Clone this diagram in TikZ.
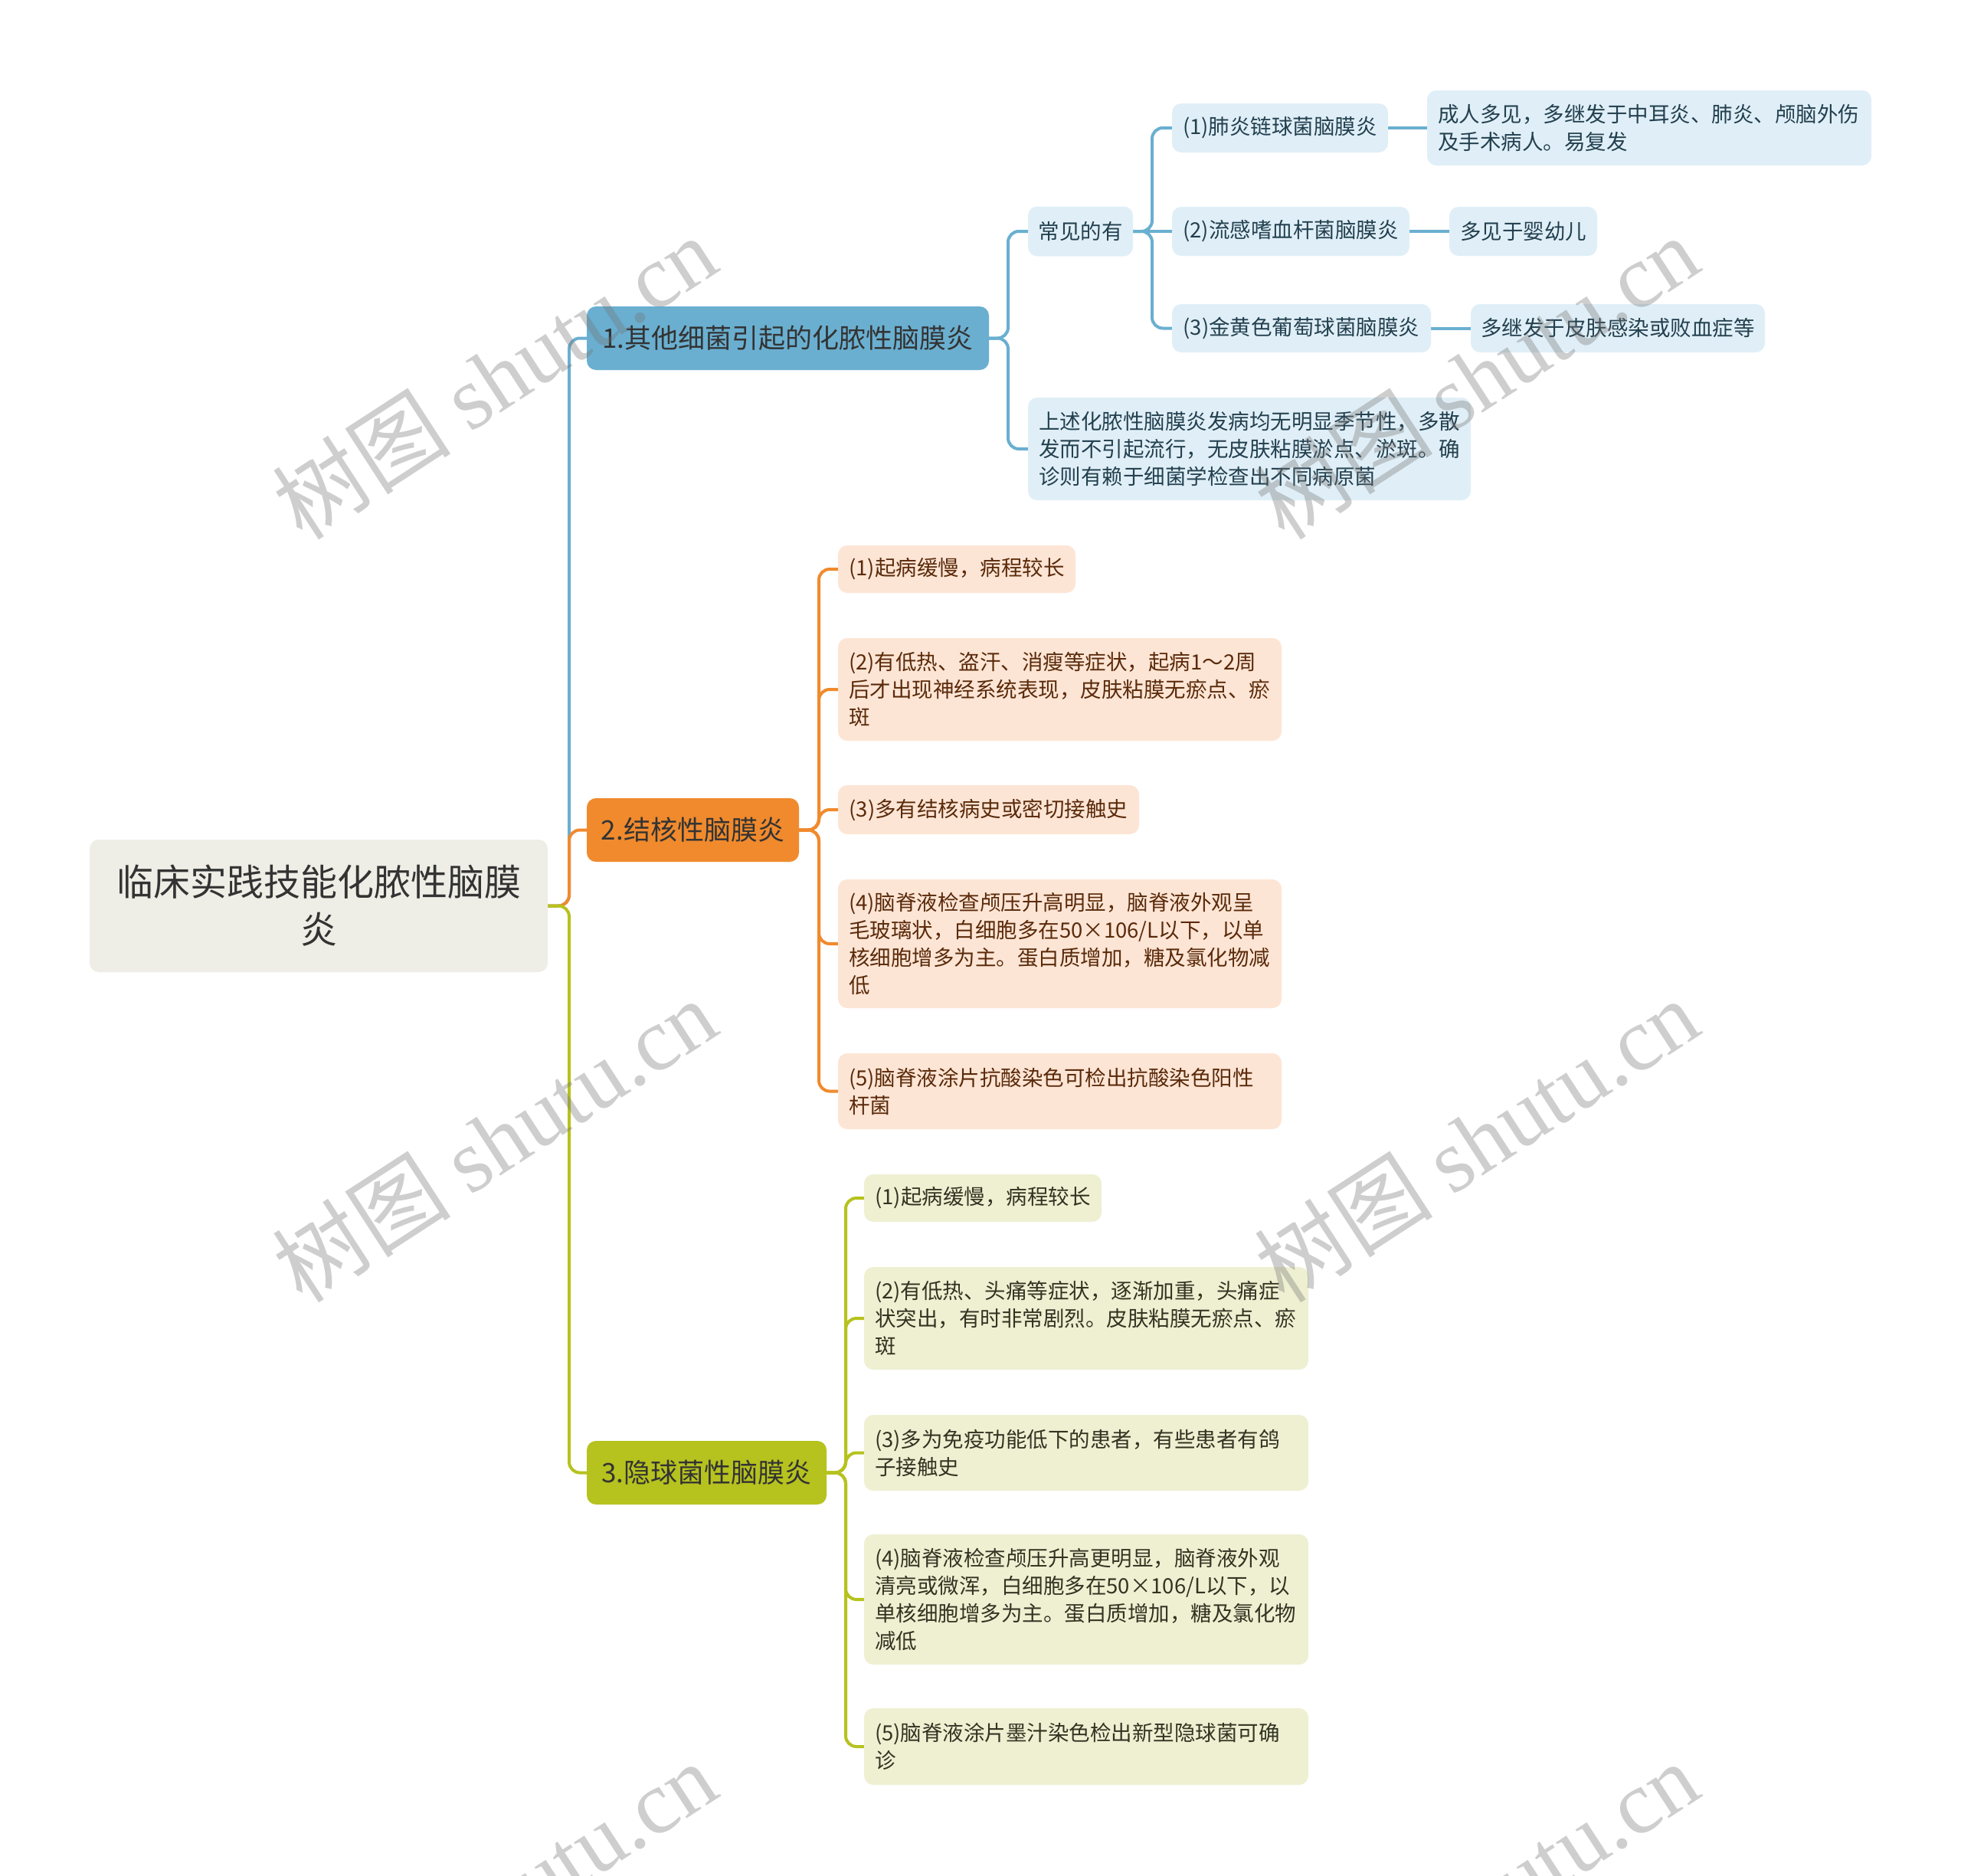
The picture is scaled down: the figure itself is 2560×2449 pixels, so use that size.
\documentclass[tikz,border=0pt]{standalone}
\usepackage{fontspec}
\newfontfamily\cjk{Noto Sans CJK SC}
\newfontfamily\wmserif{Liberation Serif}
\definecolor{bl}{HTML}{6AAFD0}
\definecolor{blL}{HTML}{E0EFF7}
\definecolor{blT}{HTML}{23404F}
\definecolor{orr}{HTML}{F08A2D}
\definecolor{orL}{HTML}{FDE5D5}
\definecolor{orT}{HTML}{5A2A0A}
\definecolor{gr}{HTML}{B6C21E}
\definecolor{grL}{HTML}{EFF0D2}
\definecolor{grT}{HTML}{333322}
\definecolor{rootF}{HTML}{EEEEE6}
\definecolor{txt}{HTML}{333333}
\pgfdeclarelayer{bg}
\pgfdeclarelayer{wmlayer}
\pgfsetlayers{bg,main,wmlayer}
\tikzset{
  box/.style={rounded corners=12pt, inner sep=0pt, align=center},
  rootbox/.style={box, fill=rootF, text=txt, font=\cjk\fontsize{48}{62}\selectfont},
  lone/.style={box, text=txt, font=\cjk\fontsize{35}{40}\selectfont, minimum height=83pt},
  leaf/.style={box, font=\cjk\fontsize{27.5}{36}\selectfont},
  multi/.style={leaf, align=left, inner xsep=14pt},
  bleaf/.style={fill=blL, text=blT},
  oleaf/.style={fill=orL, text=orT},
  gleaf/.style={fill=grL, text=grT},
  con/.style={line width=4pt, rounded corners=14pt},
  wm/.style={font=\cjk\fontsize{117}{117}\selectfont, text=black!55, opacity=0.35}
}
\begin{document}
\begin{tikzpicture}[x=1pt, y=-1pt]
\useasboundingbox (0,0) rectangle (2560,2449);
\clip (0,0) rectangle (2560,2449);
\begin{pgfonlayer}{bg}
\fill[white] (0,0) rectangle (2560,2449);
\end{pgfonlayer}

% root and level 1
\node[rootbox, minimum width=598pt, minimum height=173pt] (root) at (416,1182.5) {临床实践技能化脓性脑膜\\炎};
\node[lone, fill=bl, minimum width=525pt] (n1) at (1028.5,441.5) {1.其他细菌引起的化脓性脑膜炎};
\node[lone, fill=orr, minimum width=277pt] (n2) at (904.5,1083.5) {2.结核性脑膜炎};
\node[lone, fill=gr, minimum width=313pt] (n3) at (922.5,1922.5) {3.隐球菌性脑膜炎};

% blue branch
\node[leaf, bleaf, minimum width=137pt, minimum height=65pt] (b1) at (1410.5,302) {常见的有};
\node[multi, bleaf, text width=550pt, minimum height=134pt] (b2) at (1631,586) {上述化脓性脑膜炎发病均无明显季节性，多散\\发而不引起流行，无皮肤粘膜淤点、淤斑。确\\诊则有赖于细菌学检查出不同病原菌};
\node[leaf, bleaf, minimum width=282pt, minimum height=64pt] (b11) at (1671,167) {(1)肺炎链球菌脑膜炎};
\node[leaf, bleaf, minimum width=310pt, minimum height=64pt] (b12) at (1685,302) {(2)流感嗜血杆菌脑膜炎};
\node[leaf, bleaf, minimum width=338pt, minimum height=63pt] (b13) at (1699,428.5) {(3)金黄色葡萄球菌脑膜炎};
\node[multi, bleaf, text width=552pt, minimum height=98pt] (b111) at (2153,167) {成人多见，多继发于中耳炎、肺炎、颅脑外伤\\及手术病人。易复发};
\node[leaf, bleaf, minimum width=193pt, minimum height=64pt] (b121) at (1988.5,302) {多见于婴幼儿};
\node[leaf, bleaf, minimum width=384pt, minimum height=63pt] (b131) at (2112,428.5) {多继发于皮肤感染或败血症等};

% orange branch
\node[leaf, oleaf, minimum width=310pt, minimum height=62pt] (o1) at (1249,743) {(1)起病缓慢，病程较长};
\node[multi, oleaf, text width=551pt, minimum height=134pt] (o2) at (1383.5,900) {(2)有低热、盗汗、消瘦等症状，起病1～2周\\后才出现神经系统表现，皮肤粘膜无瘀点、瘀\\斑};
\node[leaf, oleaf, minimum width=393pt, minimum height=64pt] (o3) at (1290.5,1057) {(3)多有结核病史或密切接触史};
\node[multi, oleaf, text width=551pt, minimum height=168pt] (o4) at (1383.5,1232) {(4)脑脊液检查颅压升高明显，脑脊液外观呈\\毛玻璃状，白细胞多在50×106/L以下，以单\\核细胞增多为主。蛋白质增加，糖及氯化物减\\低};
\node[multi, oleaf, text width=551pt, minimum height=99pt] (o5) at (1383.5,1424.5) {(5)脑脊液涂片抗酸染色可检出抗酸染色阳性\\杆菌};

% green branch
\node[leaf, gleaf, minimum width=310pt, minimum height=62pt] (g1) at (1283,1564) {(1)起病缓慢，病程较长};
\node[multi, gleaf, text width=552pt, minimum height=134pt] (g2) at (1418,1721) {(2)有低热、头痛等症状，逐渐加重，头痛症\\状突出，有时非常剧烈。皮肤粘膜无瘀点、瘀\\斑};
\node[multi, gleaf, text width=552pt, minimum height=99pt] (g3) at (1418,1896.5) {(3)多为免疫功能低下的患者，有些患者有鸽\\子接触史};
\node[multi, gleaf, text width=552pt, minimum height=170pt] (g4) at (1418,2088) {(4)脑脊液检查颅压升高更明显，脑脊液外观\\清亮或微浑，白细胞多在50×106/L以下，以\\单核细胞增多为主。蛋白质增加，糖及氯化物\\减低};
\node[multi, gleaf, text width=552pt, minimum height=100pt] (g5) at (1418,2280) {(5)脑脊液涂片墨汁染色检出新型隐球菌可确\\诊};

% trunk coordinates
\coordinate (t0) at (743,1182.5);
\coordinate (t1) at (1316,441.5);
\coordinate (t11) at (1504,302);
\coordinate (t2) at (1069,1083.5);
\coordinate (t3) at (1104,1922.5);

\begin{pgfonlayer}{bg}
\draw[con, bl] (root.east) -- (t0) |- (n1.west);
\draw[con, orr] (root.east) -- (t0) |- (n2.west);
\draw[con, gr] (root.east) -- (t0) |- (n3.west);

\draw[con, bl] (n1.east) -- (t1) |- (b1.west);
\draw[con, bl] (n1.east) -- (t1) |- (b2.west);
\draw[con, bl] (b1.east) -- (t11) |- (b11.west);
\draw[con, bl] (b1.east) -- (b12.west);
\draw[con, bl] (b1.east) -- (t11) |- (b13.west);
\draw[con, bl] (b11.east) -- (b111.west);
\draw[con, bl] (b12.east) -- (b121.west);
\draw[con, bl] (b13.east) -- (b131.west);

\foreach \c in {o1,o2,o3,o4,o5}
  \draw[con, orr] (n2.east) -- (t2) |- (\c.west);
\foreach \c in {g1,g2,g3,g4,g5}
  \draw[con, gr] (n3.east) -- (t3) |- (\c.west);
\end{pgfonlayer}

% watermarks
\begin{pgfonlayer}{wmlayer}
\node[wm, rotate=33] (w1) at (645,492) {树图 {\wmserif shutu.cn}};
\node[wm, rotate=33] (w2) at (1927,492) {树图 {\wmserif shutu.cn}};
\node[wm, rotate=33] (w3) at (645,1488) {树图 {\wmserif shutu.cn}};
\node[wm, rotate=33] (w4) at (1927,1488) {树图 {\wmserif shutu.cn}};
\node[wm, rotate=33] (w5) at (645,2484) {树图 {\wmserif shutu.cn}};
\node[wm, rotate=33] (w6) at (1927,2484) {树图 {\wmserif shutu.cn}};
\end{pgfonlayer}
\end{tikzpicture}
\end{document}
